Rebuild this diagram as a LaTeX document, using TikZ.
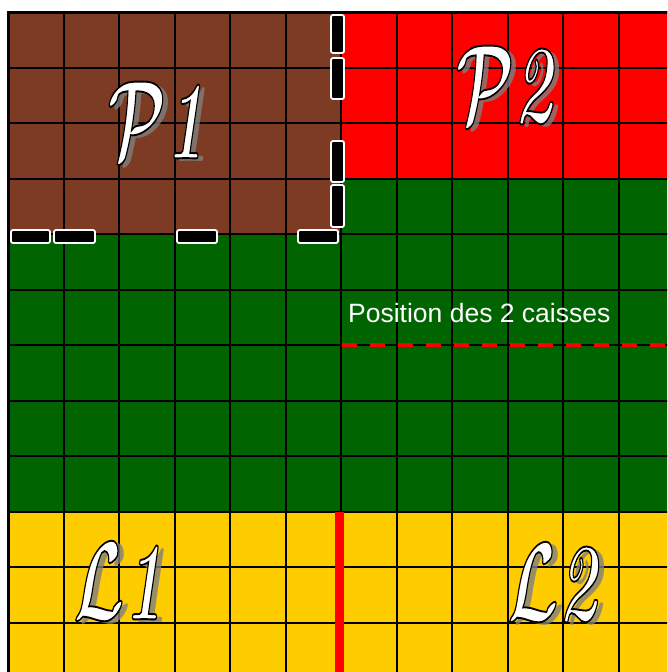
\documentclass[tikz,border=0pt]{standalone}
\usepackage{fontspec}
\usepackage{amsmath}
\usetikzlibrary{positioning}
\newfontfamily\captionfont{Liberation Sans}
\definecolor{planbrown}{HTML}{7C3B22}
\definecolor{planred}{HTML}{FF0000}
\definecolor{plangreen}{HTML}{006400}
\definecolor{planyellow}{HTML}{FFCC00}
\definecolor{planshadow}{HTML}{808080}

% fancy label: grey shadow, then white letters with a black rim
\newcommand{\zonehook}{}
\newcommand{\zoneunhook}{}
\newcommand{\zonetext}[2]{\scalebox{6.5}[11.2]{\fontsize{10}{12}\selectfont\bfseries\boldmath\zonehook$\mathcal{#1}$\textit{#2}\zoneunhook}}
\newcommand{\zonelabel}[3]{%
  \node[lettershadow, xshift=6pt, yshift=-3pt] at (#2) {#3};
  \node[letterface] (#1) at (#2) {%
    \def\zonehook{\special{pdf:literal direct 2 Tr 0 G 0.17 w}}%
    \def\zoneunhook{\special{pdf:literal direct 0 Tr}}#3};
}

\begin{document}
\begin{tikzpicture}[
  x=1pt, y=-1pt,
  gridline/.style={black, line width=2pt},
  porte/.style={draw=white, fill=black, line width=1.8pt, rounded corners=2pt},
  lettershadow/.style={text=planshadow, text opacity=0.8, inner sep=0pt},
  letterface/.style={text=white, inner sep=0pt},
  caption/.style={text=white, inner sep=0pt, font=\captionfont\fontsize{26.5}{30}\selectfont}
]
\useasboundingbox (0,0) rectangle (667,672);
\fill[white] (0,0) rectangle (667,672);
\clip (0,0) rectangle (667,672);

% zones
\fill[plangreen] (8,12) rectangle (674,678);
\fill[planbrown] (8,12) rectangle (341,234);
\fill[planred] (341,12) rectangle (674,178.5);
\fill[planyellow] (8,511.5) rectangle (674,678);

\foreach \i in {0,...,12} {
  \draw[gridline] ({8+55.5*\i},12) -- ({8+55.5*\i},678);
  \draw[gridline] (8,{12+55.5*\i}) -- (674,{12+55.5*\i});
}
\draw[black, line width=3pt] (8,678) -- (8,12) -- (674,12);

% separation L1 / L2
\draw[planred, line width=9pt] (339.5,511.5) -- (339.5,672);
\draw[planred, line width=4.5pt, dash pattern=on 15pt off 13pt] (341.5,345) -- (667,345);
\node[caption, anchor=base west] (caisses) at (348,322) {Position des 2 caisses};

% portes
\foreach \xa/\xb in {11/50, 54/95, 177/217, 298/338}
  \draw[porte] (\xa,230) rectangle (\xb,243);
\foreach \ya/\yb in {15/53, 58/99, 141/182, 185/227}
  \draw[porte] (331,\ya) rectangle (344,\yb);

\zonelabel{p1}{156,120}{\zonetext{P}{1}}
\zonelabel{p2}{505,85}{\zonetext{P}{2}}
\zonelabel{l1}{118,581}{\zonetext{L}{1}}
\zonelabel{l2}{553,583}{\zonetext{L}{2}}
\end{tikzpicture}
\end{document}
